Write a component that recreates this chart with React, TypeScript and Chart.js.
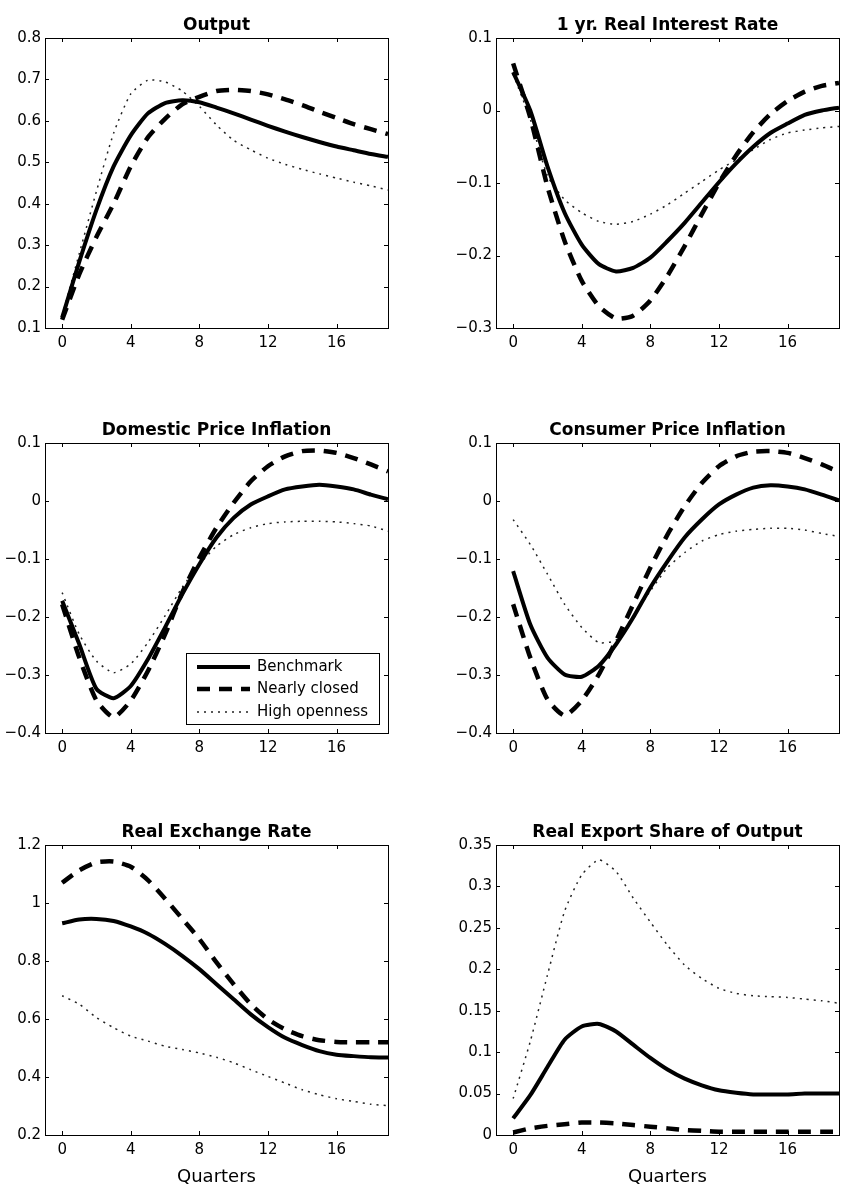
import { useEffect, useRef } from "react";
import { Chart, registerables } from "chart.js";

Chart.register(...registerables);

const quarters = [0, 1, 2, 3, 4, 5, 6, 7, 8, 9, 10, 11, 12, 13, 14, 15, 16, 17, 18, 19];
const seriesNames = ["Benchmark", "Nearly closed", "High openness"];
const xTicks = [0, 4, 8, 12, 16];
const xLabel = "Quarters";

const outputBenchmark = [0.125, 0.26, 0.385, 0.49, 0.565, 0.618, 0.643, 0.65, 0.645, 0.632, 0.618, 0.603, 0.588, 0.574, 0.561, 0.549, 0.538, 0.529, 0.52, 0.513];
const outputNearlyClosed = [0.12, 0.23, 0.32, 0.4, 0.49, 0.56, 0.605, 0.64, 0.658, 0.672, 0.675, 0.672, 0.664, 0.652, 0.638, 0.622, 0.607, 0.592, 0.58, 0.568];
const outputHighOpenness = [0.13, 0.28, 0.43, 0.57, 0.665, 0.698, 0.694, 0.672, 0.635, 0.59, 0.553, 0.53, 0.51, 0.495, 0.483, 0.472, 0.462, 0.452, 0.443, 0.433];
const outputYTicks = [0.1, 0.2, 0.3, 0.4, 0.5, 0.6, 0.7, 0.8];

const rateBenchmark = [0.053, 0.0, -0.077, -0.141, -0.185, -0.212, -0.222, -0.217, -0.203, -0.18, -0.155, -0.127, -0.099, -0.073, -0.05, -0.031, -0.018, -0.006, 0.0, 0.004];
const rateNearlyClosed = [0.065, -0.01, -0.105, -0.18, -0.235, -0.27, -0.287, -0.283, -0.262, -0.228, -0.187, -0.143, -0.1, -0.062, -0.03, -0.005, 0.013, 0.026, 0.034, 0.038];
const rateHighOpenness = [0.05, -0.012, -0.09, -0.123, -0.141, -0.153, -0.157, -0.153, -0.143, -0.13, -0.114, -0.098, -0.082, -0.068, -0.054, -0.04, -0.031, -0.027, -0.024, -0.022];
const rateYTicks = [-0.3, -0.2, -0.1, 0, 0.1];

const domBenchmark = [-0.172, -0.247, -0.324, -0.34, -0.319, -0.273, -0.218, -0.161, -0.109, -0.063, -0.029, -0.006, 0.008, 0.02, 0.025, 0.028, 0.025, 0.02, 0.011, 0.003];
const domNearlyClosed = [-0.178, -0.27, -0.344, -0.373, -0.344, -0.293, -0.23, -0.158, -0.098, -0.046, -0.003, 0.034, 0.06, 0.077, 0.086, 0.087, 0.083, 0.074, 0.063, 0.051];
const domHighOpenness = [-0.158, -0.23, -0.276, -0.296, -0.281, -0.244, -0.198, -0.149, -0.109, -0.078, -0.058, -0.046, -0.039, -0.036, -0.035, -0.035, -0.036, -0.039, -0.043, -0.052];
const inflationYTicks = [-0.4, -0.3, -0.2, -0.1, 0, 0.1];

const cpiBenchmark = [-0.121, -0.213, -0.27, -0.299, -0.303, -0.284, -0.247, -0.201, -0.149, -0.104, -0.063, -0.032, -0.006, 0.011, 0.023, 0.027, 0.025, 0.02, 0.011, 0.001];
const cpiNearlyClosed = [-0.178, -0.27, -0.342, -0.37, -0.344, -0.299, -0.241, -0.178, -0.115, -0.058, -0.009, 0.031, 0.06, 0.077, 0.085, 0.086, 0.083, 0.074, 0.063, 0.05];
const cpiHighOpenness = [-0.032, -0.075, -0.126, -0.178, -0.218, -0.244, -0.24, -0.198, -0.155, -0.115, -0.089, -0.069, -0.058, -0.052, -0.049, -0.047, -0.047, -0.05, -0.056, -0.061];

const rerBenchmark = [0.93, 0.943, 0.945, 0.938, 0.919, 0.894, 0.859, 0.818, 0.772, 0.72, 0.668, 0.616, 0.572, 0.535, 0.51, 0.489, 0.477, 0.472, 0.468, 0.467];
const rerNearlyClosed = [1.07, 1.113, 1.14, 1.143, 1.125, 1.079, 1.015, 0.946, 0.876, 0.795, 0.72, 0.651, 0.599, 0.564, 0.541, 0.527, 0.521, 0.52, 0.52, 0.52];
const rerHighOpenness = [0.68, 0.651, 0.605, 0.57, 0.541, 0.524, 0.506, 0.495, 0.483, 0.468, 0.449, 0.425, 0.402, 0.379, 0.356, 0.339, 0.325, 0.316, 0.306, 0.301];
const rerYTicks = [0.2, 0.4, 0.6, 0.8, 1, 1.2];

const exportBenchmark = [0.02, 0.048, 0.082, 0.115, 0.131, 0.134, 0.125, 0.109, 0.093, 0.079, 0.068, 0.06, 0.054, 0.051, 0.049, 0.049, 0.049, 0.05, 0.05, 0.05];
const exportNearlyClosed = [0.003, 0.008, 0.011, 0.013, 0.015, 0.015, 0.014, 0.012, 0.01, 0.008, 0.006, 0.005, 0.004, 0.004, 0.004, 0.004, 0.004, 0.004, 0.004, 0.004];
const exportHighOpenness = [0.044, 0.113, 0.193, 0.27, 0.314, 0.332, 0.318, 0.286, 0.257, 0.229, 0.205, 0.189, 0.177, 0.171, 0.168, 0.167, 0.166, 0.164, 0.162, 0.159];
const exportYTicks = [0, 0.05, 0.1, 0.15, 0.2, 0.25, 0.3, 0.35];

const FONT = "'DejaVu Sans', sans-serif";
const CANVAS_W = 421;
const CANVAS_H = 386;

const seriesStyles = [
  { borderWidth: 4, borderDash: [] as number[], borderColor: "#000" },
  { borderWidth: 4.5, borderDash: [13, 9], borderColor: "#000" },
  { borderWidth: 1.5, borderDash: [2, 5], borderColor: "#222" },
];

function fmt(v: number) {
  const s = String(+Math.abs(v).toFixed(2));
  return v < -1e-9 ? "\u2212" + s : s;
}

const framePlugin = {
  id: "frame",
  afterDatasetsDraw(chart: any) {
    const { ctx, chartArea: a, scales } = chart;
    const opts = chart.options.plugins.frame || {};
    ctx.save();
    ctx.strokeStyle = "#000";
    ctx.lineWidth = 1;
    ctx.strokeRect(Math.round(a.left) + 0.5, Math.round(a.top) + 0.5, Math.round(a.right - a.left), Math.round(a.bottom - a.top));
    const tl = 4;
    ctx.beginPath();
    for (const t of scales.x.ticks) {
      const px = Math.round(scales.x.getPixelForValue(t.value)) + 0.5;
      ctx.moveTo(px, a.bottom);
      ctx.lineTo(px, a.bottom - tl);
      ctx.moveTo(px, a.top);
      ctx.lineTo(px, a.top + tl);
    }
    for (const t of scales.y.ticks) {
      const py = Math.round(scales.y.getPixelForValue(t.value)) + 0.5;
      ctx.moveTo(a.left, py);
      ctx.lineTo(a.left + tl, py);
      ctx.moveTo(a.right, py);
      ctx.lineTo(a.right - tl, py);
    }
    ctx.stroke();

    // title
    if (opts.title) {
      ctx.fillStyle = "#000";
      ctx.font = `bold 17px ${FONT}`;
      ctx.textAlign = "center";
      ctx.textBaseline = "alphabetic";
      ctx.fillText(opts.title, (a.left + a.right) / 2, a.top - 8);
    }

    // legend
    if (opts.legend) {
      const w = 193;
      const h = 71;
      const x0 = a.right - 9 - w;
      const y0 = a.bottom - 9 - h;
      ctx.fillStyle = "#fff";
      ctx.fillRect(x0, y0, w, h);
      ctx.strokeStyle = "#000";
      ctx.lineWidth = 1;
      ctx.strokeRect(Math.round(x0) + 0.5, Math.round(y0) + 0.5, w, h);
      const rows = [14, 36, 59];
      chart.data.datasets.forEach((ds: any, i: number) => {
        const y = y0 + rows[i];
        ctx.save();
        ctx.strokeStyle = ds.borderColor;
        ctx.lineWidth = ds.borderWidth;
        ctx.setLineDash(ds.borderDash || []);
        ctx.beginPath();
        ctx.moveTo(x0 + 11, y);
        ctx.lineTo(x0 + 64, y);
        ctx.stroke();
        ctx.restore();
        ctx.fillStyle = "#000";
        ctx.font = `15px ${FONT}`;
        ctx.textAlign = "left";
        ctx.textBaseline = "middle";
        ctx.fillText(ds.label, x0 + 71, y);
      });
    }
    ctx.restore();
  },
};

type PanelProps = {
  title: string;
  series: number[][];
  yTicks: number[];
  left: number;
  top: number;
  rightCol: boolean;
  showXLabel?: boolean;
  legend?: boolean;
};

function Panel({ title, series, yTicks, left, top, rightCol, showXLabel, legend }: PanelProps) {
  const ref = useRef<HTMLCanvasElement | null>(null);
  useEffect(() => {
    if (!ref.current) return;
    const yAxisW = rightCol ? 75 : 45;
    const padRight = rightCol ? 3 : 33;
    const chart = new Chart(ref.current, {
      type: "line",
      data: {
        datasets: series.map((vals, i) => ({
          label: seriesNames[i],
          data: quarters.map((q, k) => ({ x: q, y: vals[k] })),
          borderColor: seriesStyles[i].borderColor,
          borderWidth: seriesStyles[i].borderWidth,
          borderDash: seriesStyles[i].borderDash,
          borderCapStyle: "butt",
          borderJoinStyle: "round",
          pointRadius: 0,
          tension: 0.2,
          fill: false,
        })),
      },
      options: {
        animation: false,
        responsive: false,
        maintainAspectRatio: false,
        events: [],
        layout: { padding: { top: 38, left: 0, right: padRight, bottom: 0 } },
        plugins: {
          legend: { display: false },
          tooltip: { enabled: false },
          title: { display: false },
          frame: { title, legend: !!legend },
        } as any,
        scales: {
          x: {
            type: "linear",
            min: -1,
            max: 19,
            afterBuildTicks: (s: any) => {
              s.ticks = xTicks.map((v) => ({ value: v }));
            },
            afterFit: (s: any) => {
              s.height = 58;
            },
            grid: { display: false, drawTicks: false },
            border: { display: false },
            ticks: {
              color: "#000",
              font: { family: FONT, size: 15 },
              padding: 6,
              maxRotation: 0,
              autoSkip: false,
              callback: (v: any) => String(v),
            },
            title: {
              display: !!showXLabel,
              text: xLabel,
              color: "#000",
              font: { family: FONT, size: 18 },
              padding: { top: 0, bottom: 5 },
            },
          },
          y: {
            type: "linear",
            min: yTicks[0],
            max: yTicks[yTicks.length - 1],
            afterBuildTicks: (s: any) => {
              s.ticks = yTicks.map((v) => ({ value: v }));
            },
            afterFit: (s: any) => {
              s.width = yAxisW;
            },
            grid: { display: false, drawTicks: false },
            border: { display: false },
            ticks: {
              color: "#000",
              font: { family: FONT, size: 15 },
              padding: 4,
              autoSkip: false,
              callback: (v: any) => fmt(Number(v)),
            },
          },
        },
      },
      plugins: [framePlugin],
    } as any);
    return () => chart.destroy();
  }, []);
  return (
    <canvas
      ref={ref}
      width={CANVAS_W}
      height={CANVAS_H}
      style={{ position: "absolute", left, top, width: CANVAS_W, height: CANVAS_H }}
    />
  );
}

export default function App() {
  return (
    <div style={{ position: "absolute", left: 0, top: 0, width: 842, height: 1193, background: "#fff", overflow: "hidden" }}>
      <Panel title="Output" series={[outputBenchmark, outputNearlyClosed, outputHighOpenness]} yTicks={outputYTicks} left={0} top={0} rightCol={false} />
      <Panel title="1 yr. Real Interest Rate" series={[rateBenchmark, rateNearlyClosed, rateHighOpenness]} yTicks={rateYTicks} left={421} top={0} rightCol={true} />
      <Panel title="Domestic Price Inflation" series={[domBenchmark, domNearlyClosed, domHighOpenness]} yTicks={inflationYTicks} left={0} top={405} rightCol={false} legend={true} />
      <Panel title="Consumer Price Inflation" series={[cpiBenchmark, cpiNearlyClosed, cpiHighOpenness]} yTicks={inflationYTicks} left={421} top={405} rightCol={true} />
      <Panel title="Real Exchange Rate" series={[rerBenchmark, rerNearlyClosed, rerHighOpenness]} yTicks={rerYTicks} left={0} top={807} rightCol={false} showXLabel={true} />
      <Panel title="Real Export Share of Output" series={[exportBenchmark, exportNearlyClosed, exportHighOpenness]} yTicks={exportYTicks} left={421} top={807} rightCol={true} showXLabel={true} />
    </div>
  );
}
